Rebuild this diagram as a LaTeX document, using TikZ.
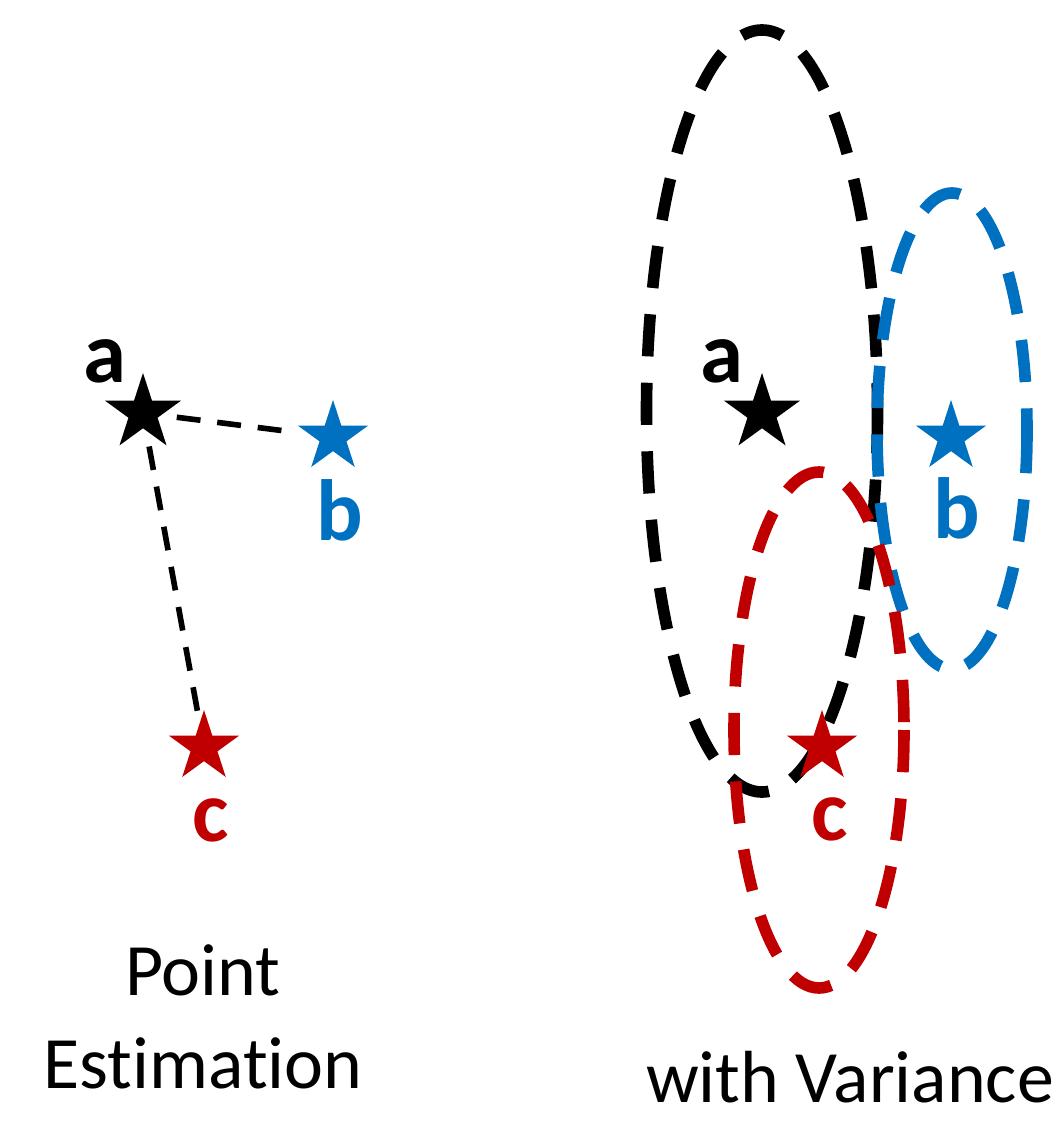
\documentclass[tikz,border=0pt]{standalone}
\usepackage{fontspec}
\setmainfont[Ligatures=NoCommon]{Carlito}
\usepackage{xcolor}
\definecolor{cA}{HTML}{000000}
\definecolor{cB}{HTML}{0070C0}
\definecolor{cC}{HTML}{C00000}
\usetikzlibrary{positioning,shapes.geometric}
\tikzset{
  node-star/.style={star,star points=5,star point ratio=2.618,draw=none,
    inner sep=0pt,minimum size=7.4mm},
  node-star-big/.style={node-star,minimum size=8mm},
  node-label/.style={inner sep=0pt,anchor=base,
    font=\bfseries\fontsize{24.7}{28}\selectfont},
  node-caption/.style={inner sep=0pt,anchor=base,
    font=\fontsize{21}{26}\selectfont},
  link-dist/.style={line width=1.6pt,dash pattern=on 6.8pt off 4.8pt},
  spread/.style={line width=3.3pt,dash pattern=on 12pt off 7.5pt},
}

\begin{document}
\begin{tikzpicture}[x=0.01cm,y=-0.01cm]
  \useasboundingbox (0,0) rectangle (1063,1125);
  % point estimation
  \node[node-star-big,fill=cA] (a1) at (143,413) {};
  \node[node-star,fill=cB]     (b1) at (333,437) {};
  \node[node-star,fill=cC]     (c1) at (204,747) {};
  \node[node-label,text=cA] (la1) at (105,383) {a};
  \node[node-label,text=cB] (lb1) at (340,540) {b};
  \node[node-label,text=cC] (lc1) at (211,841) {c};
  \draw[link-dist,shorten <=3.4mm,shorten >=4.4mm] (a1.center) -- (b1.center);
  \draw[link-dist,shorten <=3.4mm,shorten >=2.8mm] (a1.center) -- (c1.center);
  \node[node-caption] (cap1) at (203,995) {Point};
  \node[node-caption] (cap2) at (203,1088) {Estimation};
  % with variance
  \draw[spread,cA] (762,411) ellipse [x radius=115.5,y radius=381];
  \draw[spread,cB] (952,431) ellipse [x radius=75,y radius=238];
  \draw[spread,cC] (819,730) ellipse [x radius=85,y radius=258];
  \node[node-star-big,fill=cA] (a2) at (762,413) {};
  \node[node-star,fill=cB]     (b2) at (951,437) {};
  \node[node-star,fill=cC]     (c2) at (822,747) {};
  \node[node-label,text=cA] (la2) at (722,383) {a};
  \node[node-label,text=cB] (lb2) at (957,538) {b};
  \node[node-label,text=cC] (lc2) at (830,840) {c};
  \node[node-caption] (cap3) at (850,1102) {with Variance};
\end{tikzpicture}
\end{document}
